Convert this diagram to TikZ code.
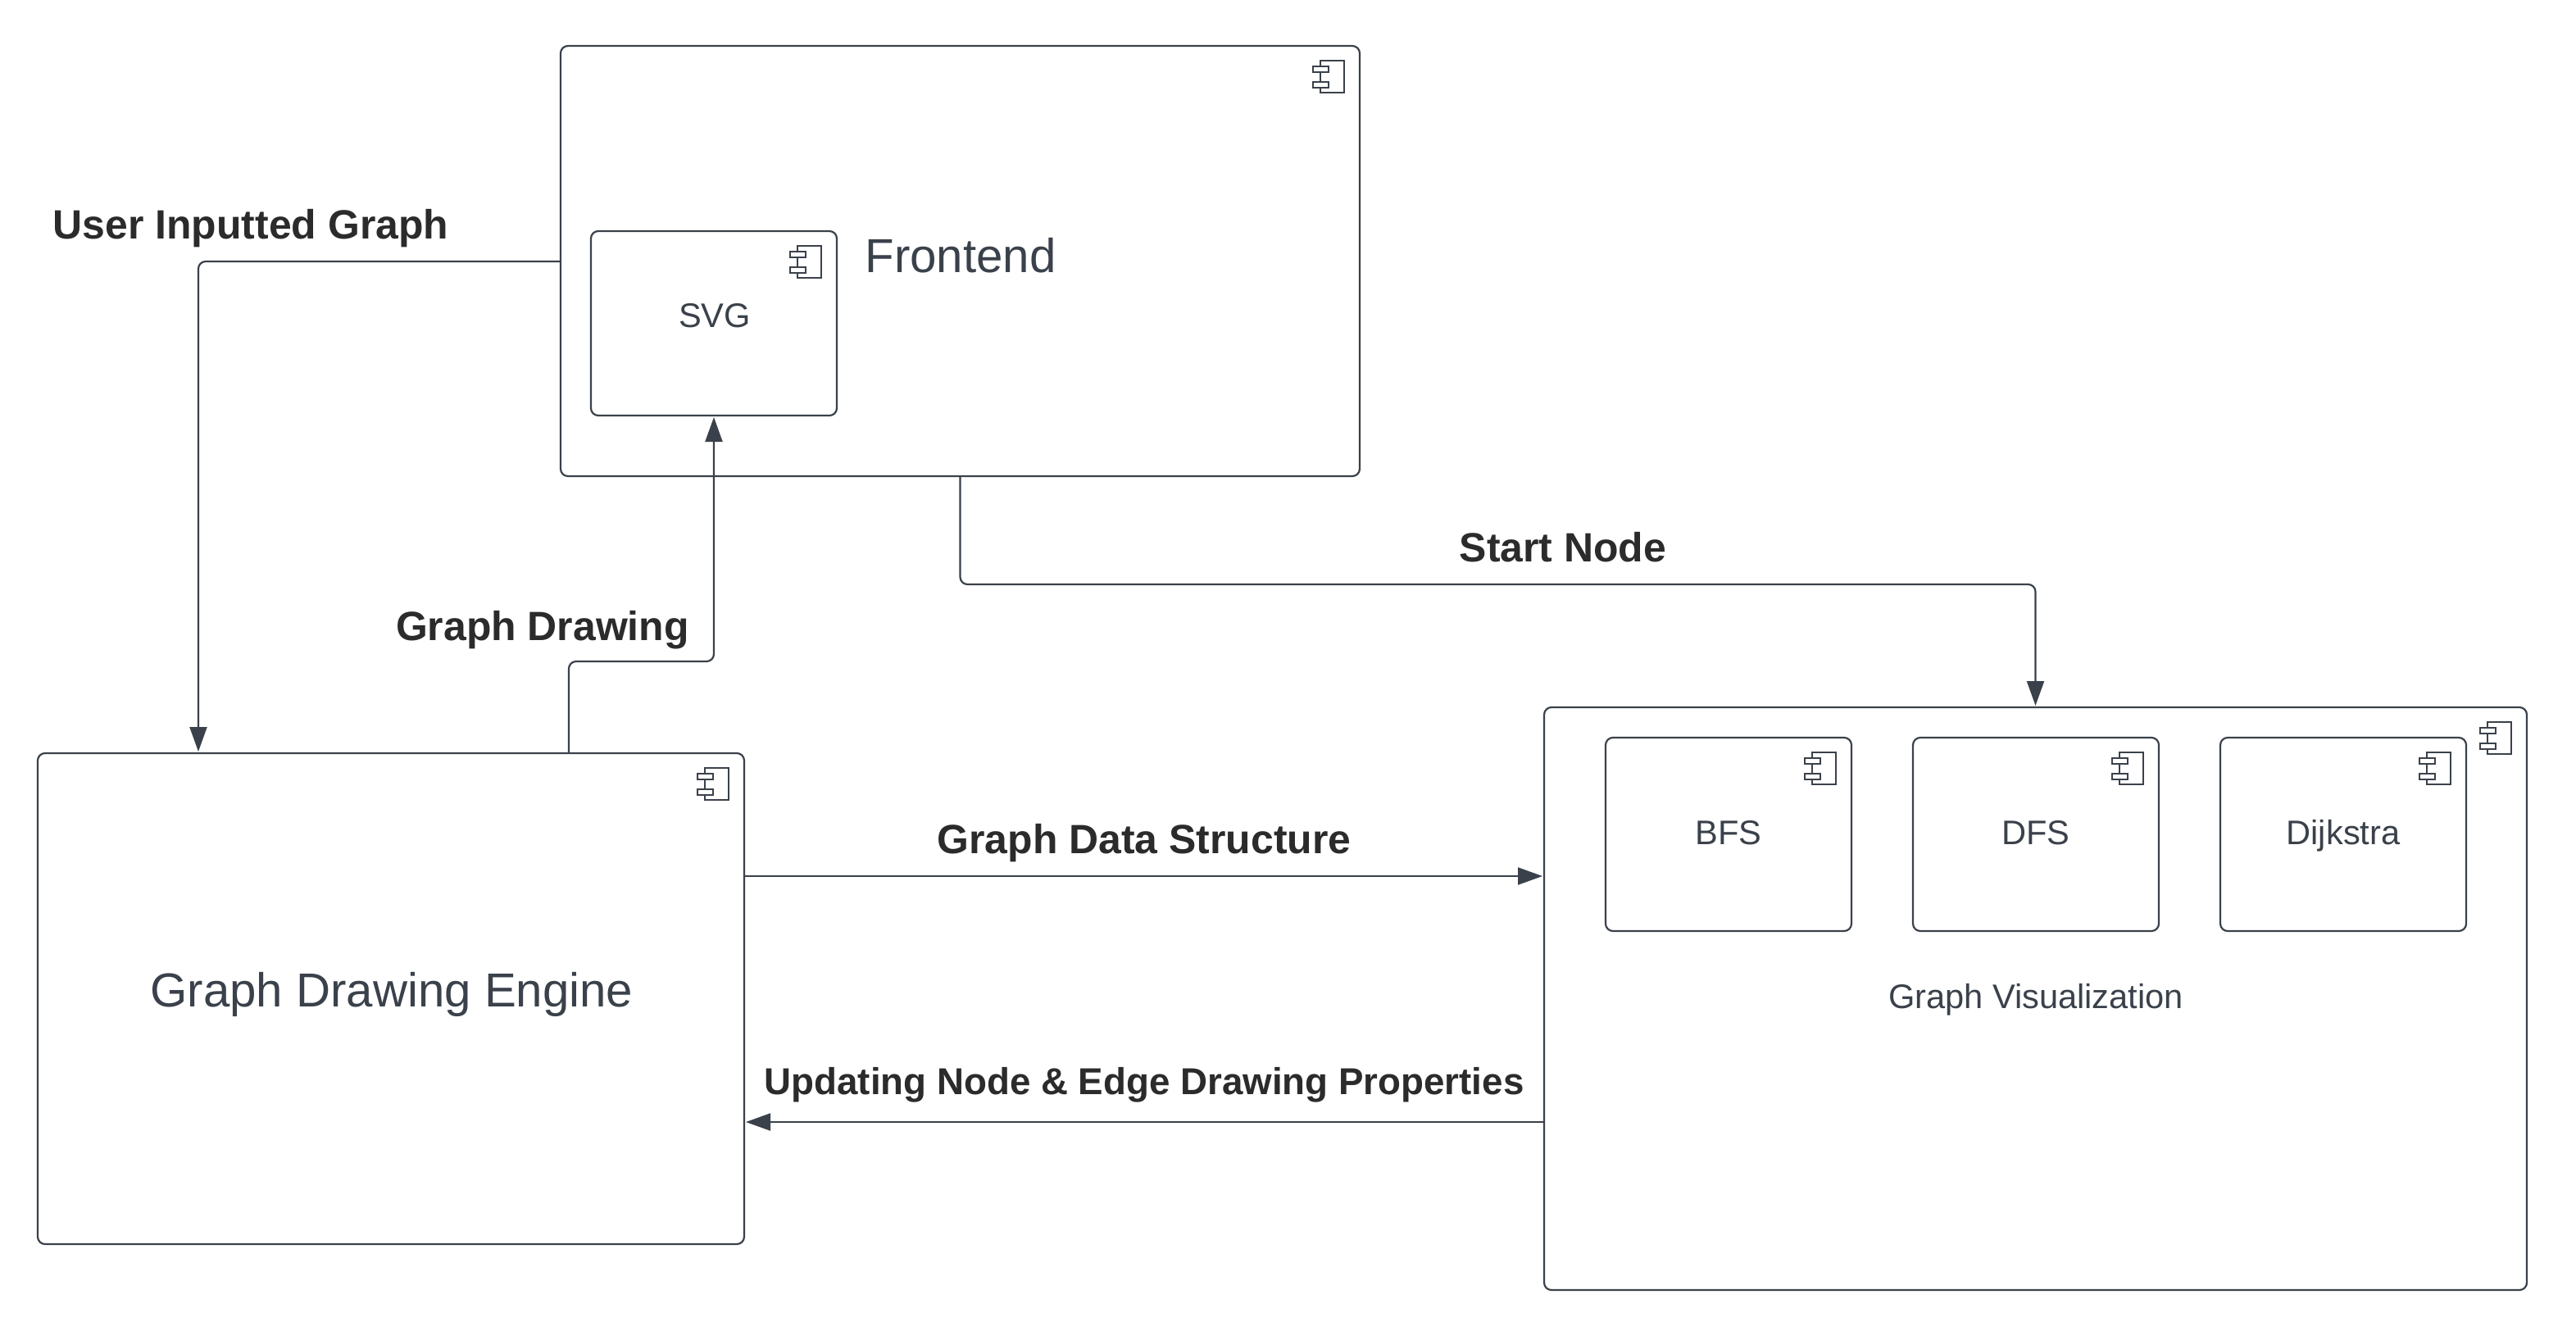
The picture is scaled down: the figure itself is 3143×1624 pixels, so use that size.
\documentclass[tikz,border=0pt]{standalone}
\usepackage{fontspec}
\setmainfont{Liberation Sans}
\usetikzlibrary{arrows.meta,calc}
\definecolor{ink}{HTML}{3A414A}
\definecolor{labelink}{HTML}{2B2B2B}
\tikzset{
  compbox/.style={draw=ink,line width=2.2pt,rounded corners=9pt,fill=white,inner sep=0pt,outer sep=0pt,text=ink,align=center,anchor=north west},
  iconpart/.style={draw=ink,line width=2.2pt,fill=white},
  wire/.style={draw=ink,line width=2.2pt,rounded corners=9pt},
  arrowwire/.style={wire,-{Triangle[length=30pt,width=21pt,color=ink]},shorten >=2pt},
  edgelabel/.style={text=labelink,font=\bfseries\fontsize{49.9}{60}\selectfont,inner sep=0pt},
  edgelabelsmall/.style={text=labelink,font=\bfseries\fontsize{45.7}{54}\selectfont,inner sep=0pt},
  big/.style={font=\fontsize{58.2}{68}\selectfont},
  small/.style={font=\fontsize{41.6}{50}\selectfont}
}
% icon relative to the top right corner of a box
\newcommand{\compicon}[1]{%
  \draw[iconpart] ($(#1.north east)+(-48,18)$) rectangle ($(#1.north east)+(-19,57)$);
  \draw[iconpart] ($(#1.north east)+(-57,25)$) rectangle ($(#1.north east)+(-38,32)$);
  \draw[iconpart] ($(#1.north east)+(-57,44)$) rectangle ($(#1.north east)+(-38,51)$);
}
\begin{document}
\begin{tikzpicture}[x=1pt,y=-1pt]
\useasboundingbox (0,0) rectangle (3143,1624);
\fill[white] (0,0) rectangle (3143,1624);

% boxes
\node[compbox,big,minimum width=975pt,minimum height=525pt] (frontend) at (684,56) {};
\node[compbox,small,minimum width=300pt,minimum height=225pt] (svg) at (721,282) {};
\node[compbox,big,minimum width=862pt,minimum height=599pt] (engine) at (46,919) {};
\node[compbox,small,minimum width=1199pt,minimum height=711pt] (vis) at (1884,863) {};
\node[compbox,small,minimum width=300pt,minimum height=236pt] (bfs) at (1959,900) {};
\node[compbox,small,minimum width=300pt,minimum height=236pt] (dfs) at (2334,900) {};
\node[compbox,small,minimum width=300pt,minimum height=236pt] (dijkstra) at (2709,900) {};

\compicon{frontend}
\compicon{svg}
\compicon{engine}
\compicon{vis}
\compicon{bfs}
\compicon{dfs}
\compicon{dijkstra}

% box titles
\node[text=ink,big,inner sep=0pt] (frontendtext) at (1172,312) {Frontend};
\node[text=ink,small,inner sep=0pt] (svgtext) at (872,385) {SVG};
\node[text=ink,big,inner sep=0pt] (enginetext) at (478,1213) {Graph Drawing Engine};
\node[text=ink,small,inner sep=0pt] (vistext) at (2484,1220) {Graph Visualization};
\node[text=ink,small,inner sep=0pt] (bfstext) at (2109,1016) {BFS};
\node[text=ink,small,inner sep=0pt] (dfstext) at (2484,1016) {DFS};
\node[text=ink,small,inner sep=0pt] (dijkstratext) at (2859,1020) {Dijkstra};

% connectors
\coordinate (c1a) at (frontend.west |- 0,319);
\coordinate (c1b) at (242,319);
\coordinate (c1c) at (242,919);
\draw[arrowwire] (c1a) -- (c1b) -- (c1c);

\coordinate (c2a) at (694,919);
\coordinate (c2b) at (694,807);
\coordinate (c2c) at (svg.south |- 0,807);
\draw[arrowwire] (c2a) -- (c2b) -- (c2c) -- (svg.south);

\coordinate (c3a) at (frontend.south |- 0,713);
\coordinate (c3b) at (vis.north |- 0,713);
\draw[arrowwire] (frontend.south) -- (c3a) -- (c3b) -- (vis.north);

\coordinate (c4a) at (engine.east |- 0,1069);
\coordinate (c4b) at (vis.west |- 0,1069);
\draw[arrowwire] (c4a) -- (c4b);

\coordinate (c5a) at (vis.west |- 0,1369);
\coordinate (c5b) at (engine.east |- 0,1369);
\draw[arrowwire] (c5a) -- (c5b);

% labels
\node[edgelabel] (lab1) at (306,279) {User Inputted Graph};
\node[edgelabel] (lab2) at (662,769) {Graph Drawing};
\node[edgelabel] (lab3) at (1907,668) {Start Node};
\node[edgelabel] (lab4) at (1396,1029) {Graph Data Structure};
\node[edgelabelsmall] (lab5) at (1396,1324) {Updating Node \& Edge Drawing Properties};
\end{tikzpicture}
\end{document}
